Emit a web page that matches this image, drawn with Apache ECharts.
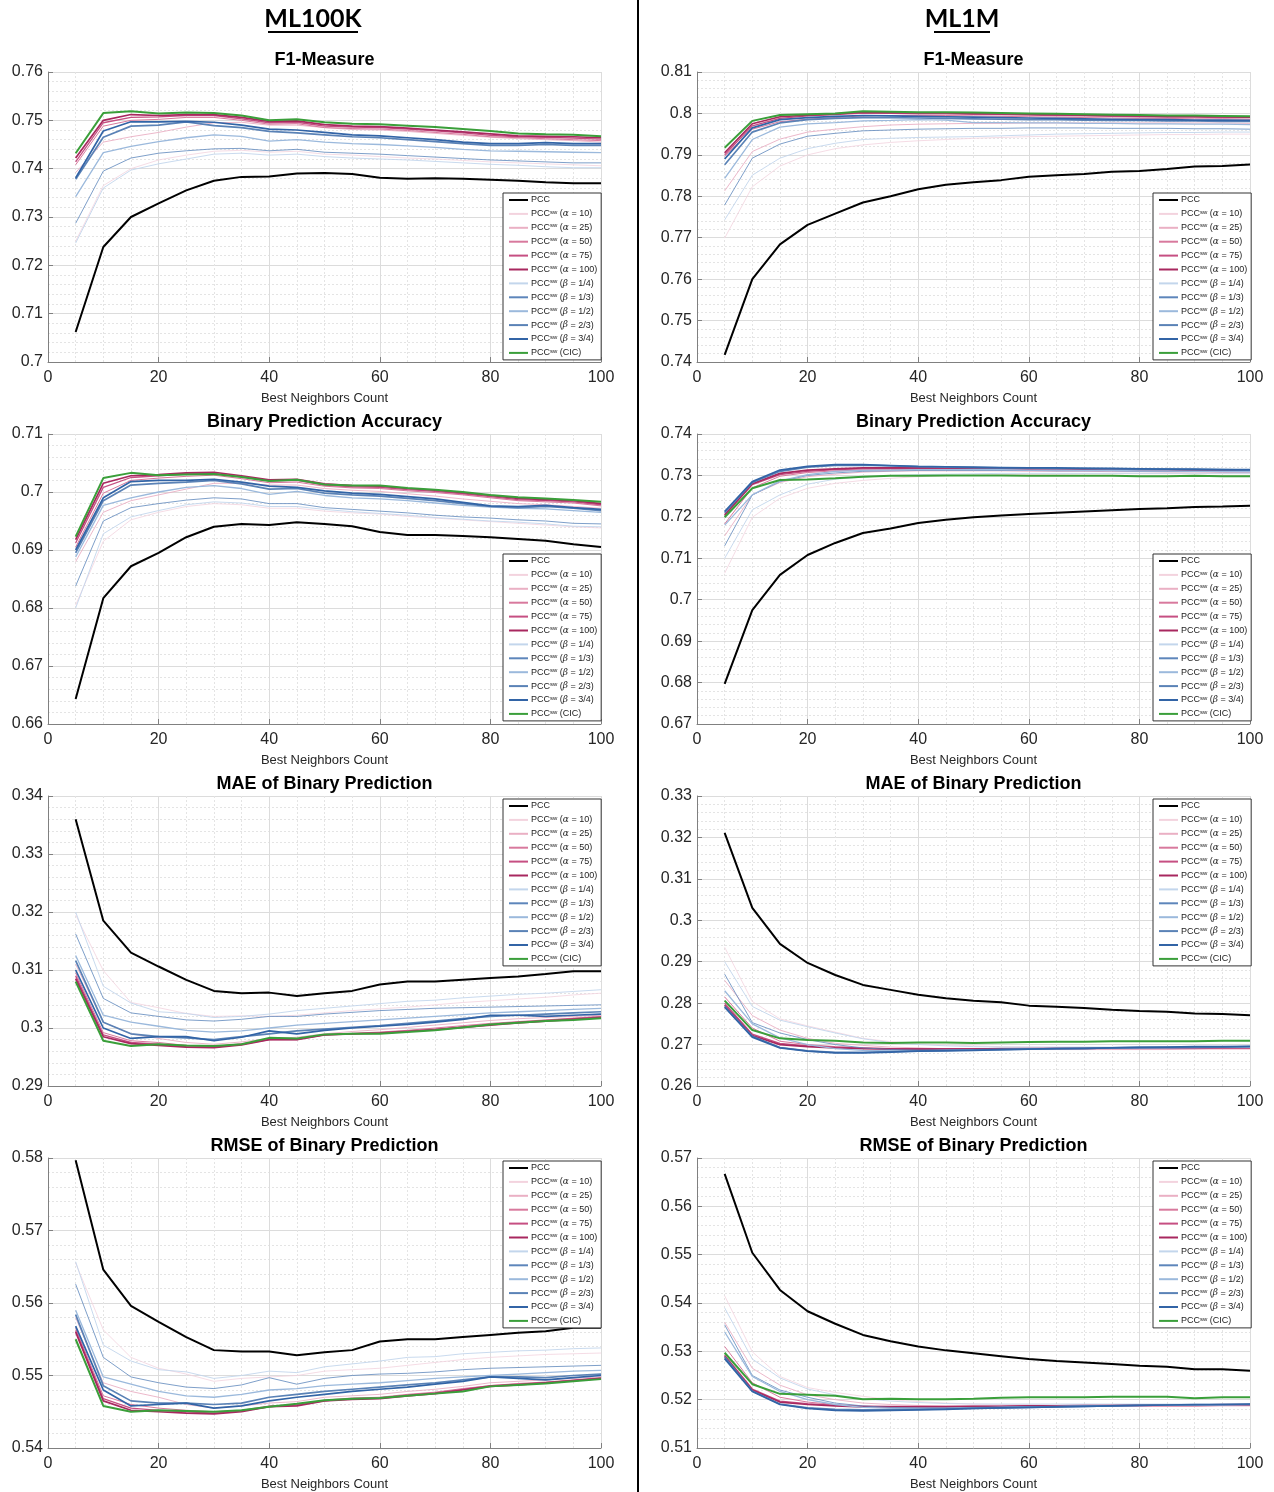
<!DOCTYPE html>
<html>
<head>
<meta charset="utf-8">
<title>PCC vs PCCsw</title>
<script src="https://cdn.jsdelivr.net/npm/echarts@6/dist/echarts.min.js"></script>
<style>
  html, body { margin: 0; padding: 0; background: #fff; }
  #chart { width: 1274px; height: 1492px; }
</style>
</head>
<body>
<div id="chart"></div>
<script>
// x values: best neighbors count
var neighbors = [5, 10, 15, 20, 25, 30, 35, 40, 45, 50, 55, 60, 65, 70, 75, 80, 85, 90, 95, 100];
var xTicks = { min: 0, max: 100, interval: 20 };

// series order in every panel
var seriesNames = ['PCC', 'a10', 'a25', 'a50', 'a75', 'a100', 'b14', 'b13', 'b12', 'b23', 'b34', 'cic'];

/*--------------------- ML100K -------------------------------- */
var ml100kF1 = [
  [.7062, .7238, .7300, .7328, .7355, .7375, .7383, .7384, .7390, .7391, .7389, .7381, .7379, .7380, .7379, .7377, .7375, .7372, .7370, .7370],
  [.7250, .7365, .7400, .7418, .7428, .7436, .7438, .7434, .7436, .7430, .7428, .7425, .7422, .7420, .7417, .7414, .7412, .7410, .7408, .7406],
  [.7392, .7455, .7466, .7475, .7486, .7495, .7496, .7490, .7490, .7485, .7481, .7480, .7477, .7473, .7469, .7465, .7462, .7460, .7458, .7455],
  [.7408, .7488, .7500, .7502, .7506, .7506, .7500, .7492, .7493, .7485, .7483, .7482, .7479, .7475, .7471, .7466, .7464, .7462, .7460, .7458],
  [.7414, .7495, .7506, .7507, .7510, .7510, .7503, .7495, .7496, .7488, .7486, .7485, .7482, .7478, .7474, .7469, .7466, .7465, .7463, .7461],
  [.7422, .7500, .7512, .7510, .7512, .7512, .7506, .7498, .7499, .7491, .7488, .7487, .7484, .7480, .7476, .7472, .7468, .7467, .7466, .7464],
  [.7246, .7360, .7397, .7410, .7420, .7430, .7432, .7428, .7430, .7425, .7422, .7420, .7418, .7415, .7412, .7409, .7407, .7404, .7402, .7402],
  [.7287, .7395, .7422, .7432, .7437, .7441, .7442, .7437, .7440, .7434, .7432, .7430, .7427, .7424, .7421, .7418, .7416, .7414, .7412, .7412],
  [.7342, .7433, .7446, .7456, .7464, .7470, .7467, .7457, .7460, .7455, .7452, .7450, .7447, .7444, .7440, .7437, .7436, .7435, .7434, .7433],
  [.7378, .7465, .7488, .7490, .7497, .7489, .7485, .7477, .7474, .7470, .7466, .7464, .7460, .7456, .7452, .7448, .7448, .7450, .7448, .7448],
  [.7381, .7478, .7497, .7497, .7498, .7496, .7490, .7482, .7480, .7475, .7470, .7468, .7464, .7460, .7455, .7452, .7452, .7454, .7452, .7452],
  [.7432, .7515, .7519, .7514, .7516, .7515, .7510, .7500, .7502, .7496, .7493, .7492, .7489, .7486, .7482, .7478, .7473, .7471, .7470, .7467]
];
var ml100kAcc = [
  [.6643, .6817, .6872, .6895, .6922, .6940, .6945, .6943, .6948, .6945, .6941, .6931, .6926, .6926, .6924, .6922, .6919, .6916, .6910, .6905],
  [.6805, .6915, .6952, .6965, .6975, .6980, .6978, .6972, .6972, .6967, .6964, .6962, .6958, .6955, .6952, .6949, .6946, .6943, .6940, .6938],
  [.6880, .6965, .6985, .6995, .7005, .7015, .7015, .7012, .7012, .7006, .7003, .7001, .6997, .6993, .6988, .6984, .6980, .6978, .6975, .6972],
  [.6905, .6998, .7020, .7024, .7027, .7029, .7023, .7016, .7017, .7010, .7007, .7006, .7002, .6999, .6995, .6990, .6985, .6983, .6981, .6976],
  [.6912, .7008, .7025, .7028, .7031, .7032, .7026, .7019, .7020, .7012, .7009, .7008, .7004, .7001, .6997, .6992, .6987, .6985, .6983, .6978],
  [.6918, .7015, .7028, .7030, .7033, .7034, .7028, .7021, .7022, .7014, .7011, .7010, .7006, .7003, .6999, .6994, .6989, .6987, .6985, .6980],
  [.6800, .6928, .6957, .6968, .6978, .6983, .6981, .6975, .6975, .6970, .6966, .6963, .6960, .6956, .6953, .6950, .6948, .6945, .6941, .6940],
  [.6838, .6950, .6973, .6980, .6986, .6990, .6988, .6980, .6980, .6973, .6970, .6967, .6964, .6960, .6957, .6955, .6952, .6950, .6946, .6945],
  [.6888, .6977, .6990, .7000, .7008, .7011, .7006, .6996, .7001, .6994, .6990, .6988, .6985, .6981, .6977, .6974, .6972, .6971, .6968, .6965],
  [.6895, .6985, .7012, .7015, .7017, .7020, .7014, .7005, .7006, .6998, .6995, .6993, .6989, .6985, .6980, .6975, .6973, .6975, .6972, .6968],
  [.6900, .6990, .7018, .7020, .7020, .7022, .7017, .7010, .7008, .7002, .6998, .6996, .6992, .6988, .6982, .6976, .6975, .6977, .6973, .6970],
  [.6923, .7024, .7033, .7029, .7030, .7031, .7026, .7019, .7021, .7013, .7011, .7011, .7007, .7004, .7000, .6995, .6991, .6989, .6986, .6983]
];
var ml100kMae = [
  [.3360, .3185, .3130, .3106, .3083, .3064, .3060, .3061, .3055, .3060, .3064, .3075, .3080, .3080, .3083, .3086, .3089, .3093, .3098, .3098],
  [.3195, .3099, .3044, .3035, .3025, .3020, .3021, .3020, .3022, .3026, .3030, .3033, .3036, .3040, .3044, .3047, .3050, .3053, .3057, .3060],
  [.3110, .3010, .2990, .2982, .2975, .2972, .2976, .2982, .2984, .2990, .2994, .2997, .3001, .3005, .3009, .3013, .3016, .3018, .3020, .3022],
  [.3095, .2992, .2978, .2975, .2970, .2968, .2973, .2980, .2981, .2988, .2991, .2993, .2996, .3000, .3004, .3008, .3011, .3014, .3017, .3020],
  [.3090, .2988, .2975, .2972, .2968, .2967, .2972, .2980, .2980, .2988, .2990, .2992, .2995, .2998, .3002, .3006, .3010, .3013, .3016, .3019],
  [.3085, .2985, .2973, .2970, .2967, .2966, .2971, .2980, .2980, .2988, .2990, .2991, .2994, .2997, .3001, .3005, .3009, .3012, .3015, .3018],
  [.3200, .3072, .3043, .3028, .3025, .3018, .3020, .3024, .3030, .3034, .3038, .3042, .3046, .3048, .3052, .3055, .3058, .3060, .3063, .3066],
  [.3162, .3051, .3026, .3020, .3014, .3012, .3015, .3020, .3020, .3024, .3027, .3030, .3032, .3034, .3035, .3036, .3037, .3038, .3039, .3040],
  [.3125, .3022, .3010, .3003, .2996, .2993, .2995, .3000, .3005, .3008, .3011, .3014, .3017, .3020, .3023, .3026, .3028, .3030, .3032, .3034],
  [.3116, .3010, .2990, .2985, .2983, .2980, .2985, .2990, .2995, .2998, .3001, .3004, .3008, .3012, .3016, .3020, .3022, .3024, .3026, .3028],
  [.3100, .3000, .2982, .2985, .2985, .2978, .2984, .2995, .2990, .2996, .3000, .3003, .3006, .3010, .3015, .3022, .3022, .3020, .3022, .3024],
  [.3080, .2978, .2969, .2972, .2970, .2969, .2972, .2983, .2982, .2989, .2990, .2990, .2993, .2996, .3001, .3006, .3009, .3012, .3014, .3017]
];
var ml100kRmse = [
  [.5797, .5646, .5596, .5574, .5553, .5535, .5533, .5533, .5528, .5532, .5535, .5547, .5550, .5550, .5553, .5556, .5559, .5561, .5566, .5566],
  [.5655, .5563, .5525, .5510, .5502, .5492, .5496, .5498, .5500, .5506, .5508, .5510, .5514, .5518, .5522, .5525, .5527, .5529, .5530, .5531],
  [.5580, .5490, .5478, .5470, .5460, .5455, .5458, .5462, .5464, .5470, .5472, .5474, .5478, .5481, .5485, .5490, .5492, .5494, .5496, .5498],
  [.5565, .5472, .5460, .5455, .5452, .5450, .5452, .5458, .5460, .5466, .5469, .5470, .5474, .5477, .5482, .5486, .5489, .5491, .5494, .5497],
  [.5562, .5468, .5455, .5452, .5450, .5448, .5451, .5457, .5459, .5465, .5468, .5469, .5473, .5476, .5481, .5486, .5488, .5490, .5493, .5496],
  [.5560, .5465, .5452, .5450, .5448, .5447, .5450, .5457, .5458, .5465, .5467, .5468, .5472, .5475, .5480, .5485, .5487, .5490, .5493, .5496],
  [.5657, .5542, .5520, .5508, .5505, .5496, .5500, .5506, .5504, .5512, .5516, .5520, .5525, .5526, .5530, .5532, .5534, .5535, .5537, .5538],
  [.5626, .5525, .5498, .5490, .5484, .5482, .5487, .5497, .5488, .5496, .5500, .5502, .5503, .5505, .5508, .5510, .5511, .5512, .5513, .5514],
  [.5590, .5498, .5488, .5478, .5472, .5470, .5474, .5480, .5482, .5486, .5488, .5490, .5493, .5496, .5498, .5500, .5502, .5504, .5506, .5507],
  [.5584, .5486, .5465, .5462, .5462, .5460, .5462, .5470, .5474, .5478, .5481, .5484, .5487, .5490, .5494, .5498, .5498, .5497, .5500, .5502],
  [.5568, .5480, .5458, .5460, .5462, .5455, .5458, .5465, .5470, .5474, .5478, .5481, .5484, .5488, .5492, .5498, .5496, .5494, .5497, .5500],
  [.5550, .5458, .5450, .5452, .5451, .5450, .5452, .5457, .5461, .5466, .5468, .5469, .5472, .5475, .5478, .5485, .5487, .5489, .5492, .5495]
];

/*--------------------- ML1M -------------------------------- */
var ml1mF1 = [
  [.7417, .7600, .7684, .7731, .7758, .7785, .7800, .7817, .7828, .7834, .7839, .7847, .7851, .7854, .7859, .7861, .7866, .7872, .7873, .7877],
  [.7699, .7823, .7873, .7900, .7915, .7924, .7930, .7934, .7937, .7940, .7942, .7944, .7945, .7946, .7947, .7948, .7949, .7949, .7950, .7950],
  [.7813, .7908, .7938, .7955, .7962, .7968, .7972, .7974, .7975, .7976, .7976, .7977, .7977, .7977, .7977, .7977, .7977, .7977, .7977, .7976],
  [.7897, .7962, .7980, .7986, .7990, .7994, .7995, .7995, .7995, .7994, .7993, .7992, .7991, .7990, .7989, .7988, .7988, .7987, .7987, .7986],
  [.7900, .7970, .7988, .7994, .7997, .8001, .8000, .7999, .7999, .7998, .7997, .7996, .7995, .7994, .7993, .7992, .7991, .7991, .7990, .7990],
  [.7905, .7975, .7992, .7996, .7999, .8003, .8002, .8001, .8001, .8000, .7999, .7998, .7997, .7996, .7995, .7994, .7993, .7993, .7992, .7991],
  [.7743, .7851, .7892, .7915, .7928, .7937, .7940, .7942, .7943, .7944, .7946, .7948, .7950, .7951, .7952, .7953, .7954, .7954, .7955, .7955],
  [.7779, .7892, .7926, .7945, .7952, .7958, .7960, .7962, .7963, .7964, .7964, .7965, .7965, .7965, .7964, .7964, .7964, .7963, .7963, .7962],
  [.7843, .7937, .7967, .7975, .7978, .7982, .7983, .7985, .7984, .7978, .7978, .7977, .7977, .7976, .7976, .7975, .7975, .7974, .7974, .7973],
  [.7876, .7955, .7977, .7985, .7988, .7990, .7990, .7989, .7988, .7987, .7986, .7985, .7985, .7984, .7983, .7983, .7982, .7982, .7981, .7981],
  [.7890, .7965, .7985, .7990, .7993, .7995, .7994, .7993, .7992, .7991, .7990, .7989, .7988, .7987, .7986, .7985, .7985, .7984, .7984, .7983],
  [.7917, .7982, .7996, .7998, .8000, .8005, .8004, .8003, .8003, .8002, .8001, .8000, .7999, .7998, .7997, .7996, .7995, .7995, .7994, .7993]
];
var ml1mAcc = [
  [.6797, .6975, .7060, .7108, .7137, .7161, .7172, .7185, .7193, .7199, .7203, .7207, .7210, .7213, .7216, .7219, .7221, .7224, .7225, .7227],
  [.7064, .7199, .7245, .7269, .7281, .7288, .7293, .7297, .7299, .7301, .7302, .7303, .7303, .7304, .7304, .7304, .7304, .7304, .7304, .7304],
  [.7154, .7253, .7283, .7297, .7303, .7308, .7310, .7311, .7311, .7311, .7311, .7310, .7310, .7310, .7309, .7309, .7308, .7308, .7307, .7307],
  [.7183, .7270, .7298, .7307, .7311, .7313, .7314, .7315, .7315, .7315, .7314, .7314, .7313, .7313, .7312, .7312, .7311, .7311, .7310, .7310],
  [.7203, .7278, .7302, .7310, .7314, .7316, .7317, .7317, .7317, .7316, .7316, .7315, .7315, .7314, .7314, .7313, .7312, .7312, .7311, .7311],
  [.7205, .7280, .7305, .7313, .7316, .7318, .7318, .7318, .7318, .7317, .7317, .7316, .7316, .7315, .7315, .7314, .7313, .7313, .7312, .7312],
  [.7100, .7217, .7253, .7279, .7291, .7296, .7300, .7302, .7303, .7304, .7305, .7305, .7305, .7305, .7305, .7305, .7305, .7305, .7305, .7305],
  [.7130, .7253, .7285, .7300, .7306, .7310, .7311, .7312, .7312, .7312, .7312, .7312, .7311, .7311, .7311, .7310, .7310, .7310, .7309, .7309],
  [.7180, .7253, .7287, .7302, .7310, .7312, .7313, .7314, .7314, .7314, .7314, .7313, .7313, .7312, .7312, .7311, .7311, .7310, .7310, .7309],
  [.7210, .7283, .7310, .7320, .7324, .7325, .7323, .7321, .7320, .7319, .7318, .7318, .7317, .7317, .7316, .7315, .7315, .7314, .7314, .7313],
  [.7213, .7285, .7313, .7322, .7326, .7326, .7324, .7322, .7321, .7320, .7319, .7318, .7318, .7317, .7317, .7316, .7315, .7315, .7314, .7314],
  [.7199, .7269, .7289, .7290, .7293, .7297, .7299, .7299, .7300, .7300, .7300, .7299, .7299, .7299, .7299, .7298, .7298, .7299, .7298, .7298]
];
var ml1mMae = [
  [.3211, .3030, .2943, .2897, .2868, .2844, .2832, .2820, .2812, .2806, .2802, .2794, .2791, .2788, .2784, .2781, .2779, .2775, .2774, .2771],
  [.2935, .2804, .2762, .2745, .2730, .2715, .2707, .2702, .2699, .2697, .2695, .2694, .2693, .2693, .2692, .2692, .2692, .2692, .2692, .2692],
  [.2855, .2770, .2735, .2715, .2703, .2698, .2694, .2692, .2690, .2689, .2688, .2688, .2688, .2688, .2688, .2688, .2688, .2689, .2689, .2689],
  [.2815, .2740, .2708, .2700, .2695, .2692, .2690, .2689, .2689, .2689, .2689, .2689, .2690, .2690, .2690, .2690, .2690, .2690, .2691, .2691],
  [.2800, .2725, .2703, .2697, .2694, .2692, .2690, .2690, .2690, .2690, .2690, .2691, .2691, .2691, .2692, .2692, .2692, .2692, .2692, .2692],
  [.2795, .2722, .2700, .2695, .2692, .2690, .2689, .2689, .2689, .2689, .2690, .2690, .2691, .2691, .2692, .2692, .2692, .2693, .2693, .2693],
  [.2900, .2792, .2759, .2743, .2728, .2714, .2705, .2700, .2697, .2695, .2694, .2694, .2694, .2694, .2694, .2694, .2694, .2694, .2694, .2694],
  [.2870, .2753, .2728, .2712, .2700, .2692, .2688, .2687, .2687, .2688, .2689, .2689, .2690, .2690, .2691, .2691, .2692, .2692, .2693, .2693],
  [.2830, .2750, .2716, .2700, .2690, .2686, .2685, .2685, .2686, .2687, .2688, .2689, .2690, .2690, .2691, .2692, .2692, .2693, .2693, .2694],
  [.2792, .2720, .2693, .2685, .2681, .2681, .2683, .2685, .2686, .2687, .2688, .2689, .2690, .2691, .2692, .2693, .2693, .2694, .2694, .2695],
  [.2790, .2718, .2692, .2684, .2680, .2680, .2682, .2684, .2685, .2686, .2688, .2689, .2690, .2691, .2692, .2693, .2694, .2695, .2695, .2696],
  [.2806, .2735, .2715, .2711, .2709, .2705, .2704, .2705, .2705, .2704, .2705, .2706, .2707, .2707, .2708, .2708, .2708, .2708, .2709, .2709]
];
var ml1mRmse = [
  [.5667, .5504, .5427, .5383, .5357, .5334, .5321, .5310, .5302, .5296, .5290, .5284, .5280, .5277, .5274, .5270, .5268, .5263, .5263, .5260],
  [.5415, .5299, .5248, .5225, .5215, .5207, .5200, .5196, .5193, .5191, .5190, .5190, .5189, .5189, .5189, .5189, .5189, .5189, .5189, .5189],
  [.5360, .5265, .5230, .5210, .5200, .5193, .5190, .5188, .5187, .5186, .5186, .5186, .5186, .5186, .5186, .5186, .5186, .5186, .5187, .5187],
  [.5310, .5235, .5205, .5195, .5190, .5187, .5186, .5186, .5186, .5186, .5186, .5186, .5186, .5187, .5187, .5187, .5187, .5187, .5188, .5188],
  [.5292, .5222, .5197, .5192, .5188, .5186, .5186, .5186, .5186, .5186, .5186, .5187, .5187, .5187, .5188, .5188, .5188, .5188, .5189, .5189],
  [.5290, .5220, .5195, .5190, .5187, .5185, .5185, .5185, .5185, .5186, .5186, .5187, .5187, .5188, .5188, .5189, .5189, .5189, .5190, .5190],
  [.5390, .5284, .5245, .5222, .5210, .5202, .5197, .5194, .5192, .5191, .5191, .5191, .5191, .5191, .5191, .5191, .5191, .5191, .5191, .5191],
  [.5355, .5250, .5220, .5205, .5193, .5187, .5184, .5183, .5183, .5184, .5185, .5186, .5186, .5187, .5188, .5188, .5189, .5189, .5190, .5190],
  [.5340, .5248, .5217, .5200, .5190, .5184, .5182, .5182, .5182, .5183, .5184, .5185, .5186, .5187, .5187, .5188, .5188, .5189, .5189, .5190],
  [.5288, .5218, .5191, .5183, .5180, .5179, .5179, .5180, .5181, .5182, .5183, .5184, .5185, .5186, .5187, .5188, .5189, .5189, .5190, .5190],
  [.5285, .5217, .5190, .5182, .5178, .5177, .5178, .5179, .5180, .5182, .5183, .5184, .5185, .5186, .5187, .5188, .5189, .5190, .5190, .5191],
  [.5297, .5232, .5212, .5210, .5208, .5201, .5202, .5201, .5201, .5202, .5204, .5205, .5205, .5205, .5206, .5206, .5206, .5203, .5205, .5205]
];

// y ranges [min, max]
var yRanges = [[0.70, 0.76], [0.66, 0.71], [0.29, 0.34], [0.54, 0.58], [0.74, 0.81], [0.67, 0.74], [0.26, 0.33], [0.51, 0.57]];
var panelTitles = ['F1-Measure', 'Binary Prediction Accuracy', 'MAE of Binary Prediction', 'RMSE of Binary Prediction'];

(function () {
  var panels = [ml100kF1, ml100kAcc, ml100kMae, ml100kRmse, ml1mF1, ml1mAcc, ml1mMae, ml1mRmse];

  var lineColors = ['#000000', '#f3d3de', '#eab0c4', '#d8799d', '#c64f82', '#a8285f',
    '#c3d6ec', '#5d86bb', '#9bb9dc', '#5a82b6', '#3264a6', '#3a9f3a'];
  var lineWidths = [2, 0.8, 0.9, 1, 1.3, 1.7, 0.9, 0.8, 1.3, 1.7, 1.7, 2];
  var legendText = {
    PCC: 'PCC',
    a10: 'PCC{s|sw} ({g|α} = 10)', a25: 'PCC{s|sw} ({g|α} = 25)', a50: 'PCC{s|sw} ({g|α} = 50)',
    a75: 'PCC{s|sw} ({g|α} = 75)', a100: 'PCC{s|sw} ({g|α} = 100)',
    b14: 'PCC{s|sw} ({g|β} = 1/4)', b13: 'PCC{s|sw} ({g|β} = 1/3)', b12: 'PCC{s|sw} ({g|β} = 1/2)',
    b23: 'PCC{s|sw} ({g|β} = 2/3)', b34: 'PCC{s|sw} ({g|β} = 3/4)', cic: 'PCC{s|sw} (CIC)'
  };

  var font = 'Liberation Sans, Arial, sans-serif';
  var colLeft = [48, 697];
  var rowTop = [72, 434, 796, 1158];
  var plotW = 553, plotH = 290;
  // legend boxes (left, top) for each panel
  var legendPos = [[503, 193], [503, 554], [503, 799], [503, 1161],
    [1153, 193], [1153, 554], [1153, 799], [1153, 1161]];

  var grid = [], xAxis = [], yAxis = [], legend = [], series = [], graphic = [];

  panels.forEach(function (rows, p) {
    var col = p < 4 ? 0 : 1, row = p % 4;
    grid.push({ left: colLeft[col], top: rowTop[row], width: plotW, height: plotH, containLabel: false });

    var axisCommon = {
      gridIndex: p,
      axisLine: { show: true, lineStyle: { color: '#808080', width: 1 } },
      axisTick: { show: true, inside: true, length: 5, lineStyle: { color: '#808080' } },
      splitLine: { show: true, lineStyle: { color: '#dcdcdc', width: 1 } },
      minorSplitLine: { show: true, lineStyle: { color: '#e4e4e4', width: 1, type: [2, 2] } }
    };
    xAxis.push(Object.assign({}, axisCommon, {
      type: 'value', min: xTicks.min, max: xTicks.max, interval: xTicks.interval,
      minorTick: { show: true, splitNumber: 4, length: 0, lineStyle: { color: 'transparent' } },
      name: 'Best Neighbors Count', nameLocation: 'middle', nameGap: 30,
      nameTextStyle: { color: '#262626', fontSize: 13, fontFamily: font },
      axisLabel: { color: '#262626', fontSize: 16, fontFamily: font, margin: 8 }
    }));
    yAxis.push(Object.assign({}, axisCommon, {
      type: 'value', min: yRanges[p][0], max: yRanges[p][1], interval: 0.01,
      minorTick: { show: true, splitNumber: 5, length: 0, lineStyle: { color: 'transparent' } },
      axisLabel: {
        color: '#262626', fontSize: 16, fontFamily: font, margin: 5,
        formatter: function (v) { return String(+v.toFixed(3)); }
      }
    }));

    legend.push({
      data: seriesNames, orient: 'vertical',
      left: legendPos[p][0], top: legendPos[p][1],
      backgroundColor: '#fff', borderColor: '#333', borderWidth: 1, borderRadius: 0,
      padding: [2, 4, 2, 5], itemGap: 3.9, itemWidth: 19, itemHeight: 10,
      selectedMode: false,
      itemStyle: { opacity: 0 },
      formatter: function (name) { return legendText[name]; },
      textStyle: {
        fontSize: 9, fontFamily: font, color: '#222', lineHeight: 10, padding: [0, 0, 0, -2],
        rich: {
          s: { fontSize: 6, fontFamily: font, color: '#222', verticalAlign: 'top', lineHeight: 6 },
          g: { fontSize: 9, fontFamily: 'DejaVu Serif, serif', fontStyle: 'italic', color: '#222', lineHeight: 10 }
        }
      }
    });

    rows.forEach(function (vals, k) {
      series.push({
        name: seriesNames[k], type: 'line', xAxisIndex: p, yAxisIndex: p,
        data: neighbors.map(function (x, i) { return [x, vals[i]]; }),
        symbol: 'none', showSymbol: false, smooth: false,
        lineStyle: { color: lineColors[k], width: lineWidths[k] },
        itemStyle: { color: lineColors[k] },
        emphasis: { disabled: true }
      });
    });

    // panel title, centred over the plot
    graphic.push({
      type: 'text', x: colLeft[col] + plotW / 2, y: rowTop[row] - 12,
      style: { text: panelTitles[row], fill: '#000', font: 'bold 18px ' + font, textAlign: 'center', textVerticalAlign: 'middle' }
    });
  });

  // column headers and separator
  graphic.push(
    { type: 'text', x: 313, y: 19, style: { text: 'ML100K', fill: '#000', font: 'bold 25px Lato, sans-serif', textAlign: 'center', textVerticalAlign: 'middle' } },
    { type: 'text', x: 962, y: 19, style: { text: 'ML1M', fill: '#000', font: 'bold 25px Lato, sans-serif', textAlign: 'center', textVerticalAlign: 'middle' } },
    { type: 'line', shape: { x1: 268, y1: 32, x2: 358, y2: 32 }, style: { stroke: '#000', lineWidth: 2 } },
    { type: 'line', shape: { x1: 934, y1: 32, x2: 990, y2: 32 }, style: { stroke: '#000', lineWidth: 2 } },
    { type: 'line', shape: { x1: 638, y1: 0, x2: 638, y2: 1492 }, style: { stroke: '#000', lineWidth: 2 } }
  );

  var myChart = echarts.init(document.getElementById('chart'), null, { renderer: 'canvas' });
  myChart.setOption({
    backgroundColor: '#fff',
    animation: false,
    grid: grid, xAxis: xAxis, yAxis: yAxis, legend: legend, series: series,
    graphic: graphic
  });
})();
</script>
</body>
</html>
